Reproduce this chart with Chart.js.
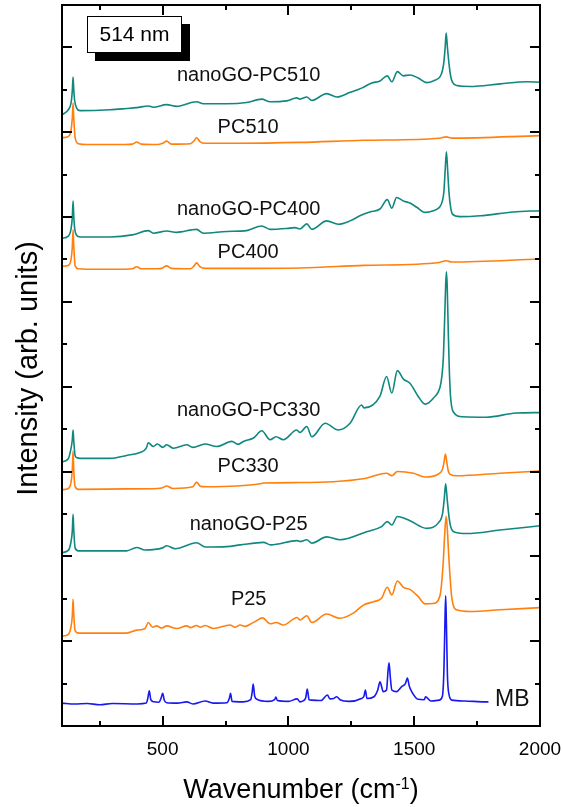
<!DOCTYPE html>
<html>
<head>
<meta charset="utf-8">
<title>Raman spectra, 514 nm</title>
<script src="https://cdn.jsdelivr.net/npm/chart.js@4.4.1/dist/chart.umd.min.js"></script>
<style>
  html, body { margin: 0; padding: 0; background: #fff; }
  #wrap { width: 563px; height: 807px; position: relative; }
</style>
</head>
<body>
<div id="wrap"><canvas id="raman"></canvas></div>
<script>
// spectra as [wavenumber (cm-1), intensity (arb. units, stacked offsets)]
const mb = [[100,0.54],[150,0.52],[200,0.53],[250,0.50],[300,0.53],[400,0.52],[435,0.54],[441,0.65],[447,0.83],[453,0.62],[465,0.57],[485,0.56],[494,0.66],[500,0.77],[507,0.60],[516,0.55],[560,0.54],[596,0.57],[620,0.52],[669,0.59],[700,0.54],[755,0.55],[765,0.65],[770,0.77],[776,0.58],[820,0.57],[850,0.62],[856,0.80],[860,0.99],[866,0.70],[875,0.63],[920,0.58],[945,0.62],[950,0.68],[956,0.60],[1000,0.58],[1035,0.64],[1046,0.57],[1068,0.65],[1075,0.87],[1082,0.62],[1093,0.61],[1130,0.60],[1155,0.73],[1165,0.64],[1180,0.65],[1192,0.69],[1205,0.62],[1240,0.58],[1290,0.65],[1300,0.70],[1306,0.85],[1312,0.65],[1340,0.69],[1355,0.85],[1364,1.04],[1377,0.81],[1390,0.85],[1396,1.30],[1400,1.49],[1405,1.15],[1411,0.85],[1430,0.81],[1450,0.93],[1465,1.00],[1473,1.13],[1480,0.95],[1490,0.81],[1515,0.63],[1540,0.62],[1545,0.69],[1565,0.59],[1600,0.61],[1612,0.70],[1618,1.30],[1622,2.40],[1625,3.07],[1628,2.40],[1632,1.20],[1638,0.75],[1650,0.61],[1700,0.59],[1780,0.57],[1795,0.57]];

const p25 = [[100,2.12],[125,2.16],[136,2.35],[141,2.60],[144,2.99],[147,2.60],[152,2.25],[165,2.19],[357,2.19],[397,2.26],[430,2.30],[443,2.44],[460,2.33],[476,2.36],[496,2.31],[516,2.36],[556,2.30],[596,2.36],[612,2.32],[635,2.37],[650,2.33],[669,2.37],[702,2.30],[768,2.38],[788,2.33],[808,2.38],[828,2.35],[854,2.42],[870,2.47],[897,2.55],[927,2.41],[951,2.44],[980,2.38],[1035,2.56],[1046,2.50],[1073,2.60],[1093,2.44],[1152,2.64],[1205,2.54],[1258,2.66],[1298,2.85],[1338,2.93],[1370,3.01],[1393,3.27],[1411,3.09],[1433,3.42],[1457,3.27],[1483,3.22],[1516,3.05],[1543,2.88],[1576,2.89],[1603,3.09],[1616,3.92],[1621,4.50],[1627,4.95],[1633,4.50],[1636,4.15],[1649,3.05],[1669,2.74],[1722,2.70],[1841,2.74],[2000,2.79]];

const goP25 = [[100,4.09],[125,4.14],[136,4.35],[141,4.60],[144,4.99],[147,4.60],[152,4.20],[165,4.13],[357,4.13],[397,4.21],[430,4.15],[500,4.20],[516,4.25],[550,4.18],[635,4.32],[670,4.22],[755,4.23],[808,4.27],[901,4.33],[930,4.27],[1035,4.37],[1046,4.35],[1073,4.39],[1093,4.31],[1152,4.46],[1205,4.39],[1311,4.58],[1370,4.70],[1393,4.82],[1411,4.74],[1433,4.94],[1483,4.84],[1550,4.66],[1596,4.79],[1613,5.02],[1620,5.40],[1625,5.71],[1631,5.35],[1638,4.95],[1645,4.70],[1662,4.57],[1709,4.54],[1841,4.62],[2000,4.72]];

const pc330 = [[100,5.57],[125,5.60],[136,5.75],[141,6.05],[144,6.49],[147,6.00],[152,5.65],[165,5.58],[357,5.59],[480,5.60],[500,5.62],[516,5.66],[540,5.60],[620,5.64],[635,5.75],[650,5.65],[675,5.64],[887,5.71],[900,5.73],[1046,5.74],[1178,5.76],[1297,5.83],[1390,5.96],[1411,5.90],[1433,6.00],[1497,5.96],[1543,5.87],[1603,5.97],[1612,6.05],[1618,6.20],[1624,6.41],[1630,6.20],[1636,6.00],[1642,5.94],[1669,5.90],[1841,5.96],[2000,6.01]];

const goPC330 = [[100,6.23],[125,6.30],[136,6.55],[141,6.75],[144,6.98],[147,6.70],[152,6.38],[158,6.33],[172,6.31],[291,6.31],[357,6.38],[410,6.45],[435,6.55],[443,6.68],[463,6.59],[479,6.65],[500,6.57],[516,6.63],[543,6.55],[596,6.63],[620,6.57],[669,6.65],[715,6.59],[775,6.71],[800,6.64],[821,6.71],[861,6.79],[894,6.96],[927,6.75],[951,6.82],[980,6.75],[1033,6.98],[1046,6.92],[1073,7.06],[1093,6.82],[1146,7.14],[1198,6.98],[1245,7.14],[1291,7.57],[1300,7.50],[1364,7.78],[1390,8.24],[1411,7.85],[1433,8.38],[1457,8.18],[1483,8.08],[1516,7.77],[1543,7.59],[1576,7.73],[1603,8.00],[1610,8.25],[1616,8.71],[1621,9.60],[1625,10.40],[1628,10.71],[1631,10.40],[1635,9.40],[1639,8.50],[1644,7.80],[1655,7.41],[1693,7.29],[1786,7.28],[1905,7.38],[2000,7.39]];

const pc400 = [[100,10.84],[125,10.86],[136,11.00],[141,11.30],[144,11.70],[147,11.30],[152,10.86],[165,10.78],[200,10.77],[350,10.77],[380,10.78],[397,10.83],[415,10.78],[480,10.78],[500,10.80],[516,10.85],[535,10.79],[610,10.78],[625,10.85],[635,10.92],[648,10.83],[670,10.79],[800,10.79],[1046,10.80],[1300,10.86],[1600,10.93],[1627,10.97],[1650,10.94],[2000,11.01]];

const goPC400 = [[100,11.50],[125,11.55],[136,11.72],[141,12.00],[144,12.38],[147,12.00],[150,11.75],[158,11.57],[172,11.53],[291,11.53],[380,11.58],[443,11.68],[463,11.62],[516,11.67],[556,11.64],[635,11.71],[662,11.62],[755,11.66],[834,11.68],[894,11.79],[927,11.71],[993,11.73],[1026,11.75],[1046,11.72],[1073,11.84],[1093,11.71],[1152,11.91],[1198,11.83],[1245,11.91],[1291,12.05],[1324,12.12],[1364,12.19],[1393,12.41],[1411,12.21],[1430,12.46],[1457,12.38],[1483,12.33],[1510,12.23],[1543,12.11],[1576,12.15],[1603,12.25],[1612,12.38],[1618,12.60],[1623,13.10],[1628,13.54],[1633,13.10],[1638,12.60],[1645,12.22],[1652,12.07],[1682,12.01],[1762,12.03],[1894,12.12],[2000,12.15]];

const pc510 = [[100,13.87],[125,13.90],[136,14.05],[141,14.35],[144,14.69],[147,14.30],[152,13.88],[165,13.73],[200,13.71],[350,13.71],[380,13.72],[397,13.77],[415,13.72],[480,13.71],[500,13.74],[516,13.79],[535,13.72],[610,13.73],[625,13.80],[635,13.87],[648,13.78],[670,13.74],[800,13.74],[1046,13.76],[1300,13.81],[1600,13.86],[1627,13.89],[1650,13.86],[2000,13.92]];

const goPC510 = [[100,14.41],[125,14.53],[136,14.69],[141,14.98],[144,15.30],[147,14.98],[150,14.76],[158,14.57],[172,14.51],[291,14.53],[357,14.56],[397,14.58],[443,14.62],[463,14.59],[516,14.65],[556,14.61],[635,14.72],[662,14.67],[755,14.67],[834,14.70],[894,14.78],[927,14.72],[993,14.74],[1033,14.81],[1046,14.78],[1073,14.83],[1093,14.75],[1152,14.91],[1192,14.83],[1245,14.94],[1291,15.04],[1331,15.16],[1364,15.21],[1393,15.33],[1411,15.19],[1433,15.43],[1457,15.33],[1483,15.35],[1516,15.28],[1550,15.17],[1576,15.21],[1603,15.31],[1612,15.45],[1618,15.66],[1623,16.00],[1627,16.34],[1632,16.00],[1638,15.63],[1645,15.32],[1652,15.18],[1669,15.10],[1722,15.08],[1841,15.14],[1947,15.19],[2000,15.18]];

const xTickMarks = [250, 500, 750, 1000, 1250, 1500, 1750, 2000];
const xTickLabels = [500, 1000, 1500, 2000];

const FONT = "'Liberation Sans', Arial, sans-serif";
const TEAL = '#10877f';
const ORANGE = '#ff800e';
const BLUE = '#1818f0';

const spectra = [
  { name: 'MB', data: mb, color: BLUE },
  { name: 'P25', data: p25, color: ORANGE },
  { name: 'nanoGO-P25', data: goP25, color: TEAL },
  { name: 'PC330', data: pc330, color: ORANGE },
  { name: 'nanoGO-PC330', data: goPC330, color: TEAL },
  { name: 'PC400', data: pc400, color: ORANGE },
  { name: 'nanoGO-PC400', data: goPC400, color: TEAL },
  { name: 'PC510', data: pc510, color: ORANGE },
  { name: 'nanoGO-PC510', data: goPC510, color: TEAL }
];

// where each sample name sits, in axis units
const nameSpots = [
  { text: 'nanoGO-PC510', x: 842, y: 15.20 },
  { text: 'PC510', x: 840, y: 13.99 },
  { text: 'nanoGO-PC400', x: 842, y: 12.05 },
  { text: 'PC400', x: 840, y: 11.04 },
  { text: 'nanoGO-PC330', x: 842, y: 7.31 },
  { text: 'PC330', x: 840, y: 6.00 },
  { text: 'nanoGO-P25', x: 842, y: 4.62 },
  { text: 'P25', x: 842, y: 2.85 },
  { text: 'MB', x: 1821, y: 0.47, size: 23, align: 'left' }
];

// box, inward ticks, axis titles and sample names
const frame = {
  id: 'frame',
  afterDraw(chart) {
    const { ctx, chartArea: a, scales: { x, y } } = chart;
    ctx.save();
    ctx.strokeStyle = '#000';
    ctx.lineWidth = 2;
    ctx.strokeRect(a.left, a.top, a.right - a.left, a.bottom - a.top);

    ctx.beginPath();
    xTickMarks.forEach(w => {
      if (w >= x.max) return;
      const px = Math.round(x.getPixelForValue(w));
      const len = w % 500 === 0 ? 10 : 5;
      ctx.moveTo(px, a.bottom); ctx.lineTo(px, a.bottom - len);
      ctx.moveTo(px, a.top); ctx.lineTo(px, a.top + len);
    });
    for (let v = y.min + 1; v < y.max; v++) {
      const py = Math.round(y.getPixelForValue(v));
      const len = v % 2 === 0 ? 10 : 5;
      ctx.moveTo(a.left, py); ctx.lineTo(a.left + len, py);
      ctx.moveTo(a.right, py); ctx.lineTo(a.right - len, py);
    }
    ctx.stroke();

    // sample names
    ctx.fillStyle = '#111';
    ctx.textBaseline = 'alphabetic';
    nameSpots.forEach(s => {
      ctx.font = (s.size || 20) + 'px ' + FONT;
      ctx.textAlign = s.align || 'center';
      ctx.fillText(s.text, x.getPixelForValue(s.x), y.getPixelForValue(s.y));
    });

    // excitation wavelength box with drop shadow
    const bx = a.left + 25, by = a.top + 11, bw = 95, bh = 37;
    ctx.fillStyle = '#000';
    ctx.fillRect(bx + 8, by + 8, bw, bh);
    ctx.fillStyle = '#fff';
    ctx.fillRect(bx, by, bw, bh);
    ctx.lineWidth = 1;
    ctx.strokeRect(bx + 0.5, by + 0.5, bw - 1, bh - 1);
    ctx.fillStyle = '#000';
    ctx.font = '21px ' + FONT;
    ctx.textAlign = 'center';
    ctx.textBaseline = 'middle';
    ctx.fillText('514 nm', bx + bw / 2, by + bh / 2 + 1);

    // x title with superscript
    const cx = (a.left + a.right) / 2;
    ctx.textAlign = 'left';
    ctx.textBaseline = 'alphabetic';
    ctx.font = '27px ' + FONT;
    const head = 'Wavenumber (cm', tail = ')';
    const w1 = ctx.measureText(head).width, w3 = ctx.measureText(tail).width;
    ctx.font = '16px ' + FONT;
    const w2 = ctx.measureText('-1').width;
    const tx = cx - (w1 + w2 + w3) / 2;
    ctx.font = '27px ' + FONT;
    ctx.fillText(head, tx, 798);
    ctx.font = '16px ' + FONT;
    ctx.fillText('-1', tx + w1, 789);
    ctx.font = '27px ' + FONT;
    ctx.fillText(tail, tx + w1 + w2, 798);

    // y title
    ctx.translate(37, (a.top + a.bottom) / 2 + 3);
    ctx.rotate(-Math.PI / 2);
    ctx.textAlign = 'center';
    ctx.font = '29px ' + FONT;
    ctx.fillText('Intensity (arb. units)', 0, 0);
    ctx.restore();
  }
};

new Chart(document.getElementById('raman'), {
  type: 'line',
  data: {
    datasets: spectra.map(s => ({
      label: s.name,
      data: s.data.map(([x, y]) => ({ x, y })),
      borderColor: s.color,
      borderWidth: 1.6,
      pointRadius: 0,
      fill: false,
      cubicInterpolationMode: 'monotone'
    }))
  },
  options: {
    responsive: true,
    maintainAspectRatio: false,
    animation: false,
    devicePixelRatio: 1,
    layout: { padding: { left: 62, right: 23, top: 5, bottom: 0 } },
    plugins: { legend: { display: false }, tooltip: { enabled: false } },
    scales: {
      x: {
        type: 'linear',
        min: 100,
        max: 2000,
        grid: { display: false, drawTicks: false },
        border: { display: false },
        afterBuildTicks: s => { s.ticks = xTickMarks.map(value => ({ value })); },
        afterFit: s => {
          s.height = 81;
          s.paddingLeft = 0;
          s.paddingRight = 0;
        },
        ticks: {
          autoSkip: false,
          maxRotation: 0,
          padding: 12,
          color: '#000',
          font: { family: FONT, size: 19 },
          callback: v => xTickLabels.includes(v) ? String(v) : ''
        }
      },
      y: { display: false, min: 0, max: 17 }
    }
  },
  plugins: [frame]
});
</script>
</body>
</html>
